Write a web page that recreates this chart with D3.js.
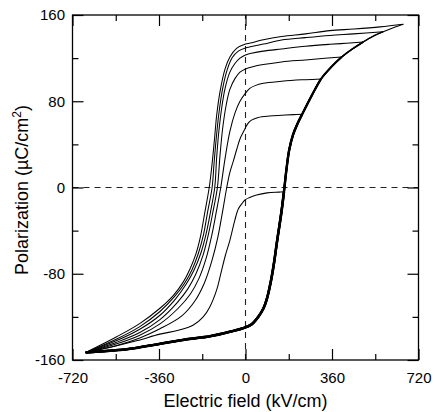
<!DOCTYPE html>
<html><head><meta charset="utf-8">
<script src="https://cdn.jsdelivr.net/npm/d3@7"></script>
<style>
body{margin:0;background:#fff}
text{font-family:"Liberation Sans",Arial,Helvetica,sans-serif;fill:#000}
</style>
</head><body>
<svg id="c" width="435" height="412"></svg>
<script>
// ---- tick values ----
const xTicks = [-720, -360, 0, 360, 720];
const xMinor = [-540, -180, 180, 540];
const yTicks = [-160, -80, 0, 80, 160];
const yMinor = [-120, -40, 40, 120];

// ---- common ascending (lower) branch: [E kV/cm, P µC/cm²] ----
const lowerBranch = [[-665,-153],[-600,-152],[-495,-150],[-356,-145],[-250,-141],[-148,-138],[-60,-133.5],[-10,-130.5],[25,-127],[53,-120],[75,-112],[88,-104],[100,-93],[109,-83],[120,-68],[130,-52],[150,-22],[160,-4],[170,16],[182,35],[198,49],[215,58.5],[236,68],[275,85],[314,100.6],[358,112],[400,121],[445,128.5],[490,135],[530,140.2],[573,144.5],[615,148.2],[657,151.4]];

// ---- descending (upper) branches, one per loop ----
const upper1 = [[160,-4],[140,-4.3],[90,-5],[46,-7],[15,-9.5],[-2,-11.6],[-15,-15],[-30,-20],[-44,-30],[-55,-40],[-65,-49],[-85,-64],[-105,-82],[-120,-95],[-148,-110.5],[-176,-120],[-217,-127.5],[-280,-132.5],[-356,-136],[-450,-142],[-540,-147],[-665,-153]];
const upper2 = [[236,68],[200,67.6],[150,67],[100,66.3],[53,65],[25,62.5],[12,60],[0,55.5],[-10,51],[-23,45],[-37,35],[-50,25],[-65,14],[-78,0],[-96,-23],[-115,-46],[-140,-68],[-172,-89],[-210,-105],[-265,-119],[-356,-131],[-440,-139.5],[-536,-146.5],[-665,-153]];
const upper3 = [[314,100.6],[250,100],[211,99.7],[150,98.5],[74,96.6],[40,94.5],[18,92],[0,87.5],[-23,80],[-44,69],[-65,52],[-85,27],[-103,0],[-121,-22],[-140,-44],[-163,-65],[-195,-85],[-230,-99],[-280,-112],[-356,-126.5],[-440,-137],[-536,-145],[-665,-153]];
const upper4 = [[400,121],[330,119.8],[250,118.3],[150,116.5],[74,114],[30,112],[0,110],[-23,107],[-44,101],[-65,91],[-80,77],[-95,55],[-106,30],[-117,0],[-135,-22],[-154,-43],[-177,-63],[-208,-81],[-240,-94],[-285,-107],[-356,-122.5],[-440,-134.5],[-536,-143.5],[-665,-153]];
const upper5 = [[490,135],[420,133.8],[351,132.8],[250,131],[150,128.5],[74,126.5],[25,124.5],[0,123],[-23,120],[-44,115],[-65,107],[-85,92],[-99,74],[-111,52],[-120,28],[-128,0],[-146,-23],[-164,-43],[-186,-61],[-215,-77],[-248,-90],[-290,-103],[-356,-118.5],[-440,-131.5],[-536,-142],[-665,-153]];
const upper6 = [[573,144.5],[450,142.5],[351,141],[250,139],[150,136.8],[74,133],[20,130.5],[0,129.5],[-30,126.5],[-55,120.5],[-75,110],[-95,92],[-110,70],[-122,45],[-131,22],[-139,0],[-158,-23],[-175,-44],[-196,-61],[-222,-76],[-254,-89],[-295,-101],[-356,-115],[-440,-129],[-536,-140.5],[-665,-153]];
const upper7 = [[657,151.4],[560,149],[450,147],[351,145.5],[250,142.5],[150,140],[74,137],[20,134],[0,133],[-37,129],[-65,121],[-85,110],[-106,89],[-120,67],[-129,45],[-140,20],[-151,0],[-170,-24],[-187,-45],[-207,-62],[-232,-76],[-260,-88],[-300,-100],[-356,-112],[-439,-126],[-536,-138.4],[-665,-153]];

const uppers = [upper1, upper2, upper3, upper4, upper5, upper6, upper7];

// ---- drawing ----
const L = 72.5, R = 418.5, T = 15, B = 360;
const svg = d3.select("#c");
const x = d3.scaleLinear().domain([-720, 720]).range([L, R]);
const y = d3.scaleLinear().domain([-160, 160]).range([B, T]);
const fmt = d => String(d);

// dashed zero lines
svg.append("line").attr("x1", x(-720)).attr("x2", x(720)).attr("y1", y(0)).attr("y2", y(0))
  .attr("stroke", "#222").attr("stroke-width", 1.1).attr("stroke-dasharray", "6,5");
svg.append("line").attr("x1", x(0)).attr("x2", x(0)).attr("y1", y(-160)).attr("y2", y(160))
  .attr("stroke", "#222").attr("stroke-width", 1.1).attr("stroke-dasharray", "6,5");

const line = d3.line().x(d => x(d[0])).y(d => y(d[1])).curve(d3.curveCatmullRom.alpha(0.5));

const lowerW = [2.6, 2.4, 2.2, 1.9, 1.6, 1.3, 1.05];
uppers.forEach((up, i) => {
  const emax = up[0][0];
  const lb = lowerBranch.filter(d => d[0] <= emax + 0.01);
  svg.append("path").attr("d", line(lb)).attr("fill", "none")
    .attr("stroke", "#000").attr("stroke-width", lowerW[i]).attr("stroke-linejoin", "round");
  svg.append("path").attr("d", line(up)).attr("fill", "none")
    .attr("stroke", "#000").attr("stroke-width", 1.05).attr("stroke-linejoin", "round");
});

// axes
function styleAxis(g) {
  g.select(".domain").remove();
  g.selectAll(".tick line").attr("stroke", "#000").attr("stroke-width", 1.2);
  g.selectAll(".tick text").attr("font-size", "15px").attr("font-family", "Liberation Sans, Arial, sans-serif").attr("fill", "#000");
}
svg.append("g").attr("transform", `translate(0,${B})`)
  .call(d3.axisBottom(x).tickValues(xTicks).tickSizeInner(-11).tickSizeOuter(0).tickPadding(12).tickFormat(fmt)).call(styleAxis);
svg.append("g").attr("transform", `translate(0,${B})`)
  .call(d3.axisBottom(x).tickValues(xMinor).tickSizeInner(-6).tickSizeOuter(0).tickFormat("")).call(styleAxis);
svg.append("g").attr("transform", `translate(0,${T})`)
  .call(d3.axisTop(x).tickValues(xTicks).tickSizeInner(-11).tickSizeOuter(0).tickFormat("")).call(styleAxis);
svg.append("g").attr("transform", `translate(0,${T})`)
  .call(d3.axisTop(x).tickValues(xMinor).tickSizeInner(-6).tickSizeOuter(0).tickFormat("")).call(styleAxis);
svg.append("g").attr("transform", `translate(${L},0)`)
  .call(d3.axisLeft(y).tickValues(yTicks).tickSizeInner(-11).tickSizeOuter(0).tickPadding(7.5).tickFormat(fmt)).call(styleAxis);
svg.append("g").attr("transform", `translate(${L},0)`)
  .call(d3.axisLeft(y).tickValues(yMinor).tickSizeInner(-6).tickSizeOuter(0).tickFormat("")).call(styleAxis);
svg.append("g").attr("transform", `translate(${R},0)`)
  .call(d3.axisRight(y).tickValues(yTicks).tickSizeInner(-11).tickSizeOuter(0).tickFormat("")).call(styleAxis);
svg.append("g").attr("transform", `translate(${R},0)`)
  .call(d3.axisRight(y).tickValues(yMinor).tickSizeInner(-6).tickSizeOuter(0).tickFormat("")).call(styleAxis);

// frame
svg.append("rect").attr("x", L).attr("y", T).attr("width", R - L).attr("height", B - T)
  .attr("fill", "none").attr("stroke", "#000").attr("stroke-width", 1.3);

// axis titles
svg.append("text").attr("x", (L + R) / 2).attr("y", 407).attr("text-anchor", "middle")
  .attr("font-size", "18px").text("Electric field (kV/cm)");
const yl = svg.append("text").attr("transform", "translate(28,190) rotate(-90)")
  .attr("text-anchor", "middle").attr("font-size", "18px");
yl.append("tspan").text("Polarization (µC/cm");
yl.append("tspan").attr("font-size", "12px").attr("dy", "-7").text("2");
yl.append("tspan").attr("dy", "7").text(")");
</script>
</body></html>
